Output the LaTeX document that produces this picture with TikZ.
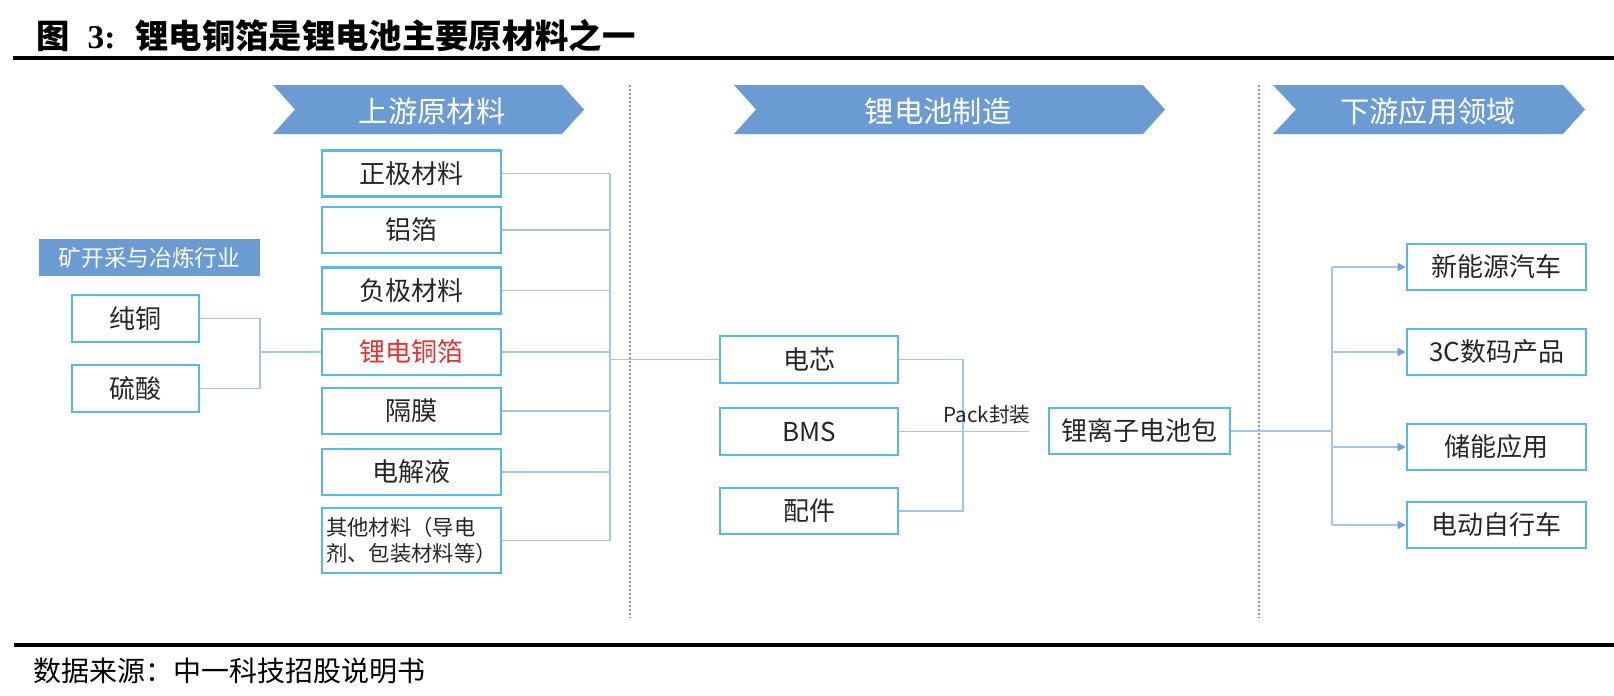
\documentclass[tikz,border=0pt]{standalone}
\usepackage{fontspec}
\usepackage{tikz}
\usetikzlibrary{arrows.meta}
\newfontfamily\cjk{Noto Sans CJK SC}
\newfontfamily\latinserif{Liberation Serif}
\definecolor{bannerblue}{RGB}{106,155,210}
\definecolor{boxedge}{RGB}{88,184,234}
\definecolor{linkblue}{RGB}{165,198,232}
\definecolor{tipblue}{RGB}{112,160,214}
\definecolor{sepgray}{RGB}{150,150,150}
\definecolor{hotred}{RGB}{232,48,48}
\definecolor{inkgray}{RGB}{38,38,38}

\begin{document}
\begin{tikzpicture}[x=0.75pt,y=0.75pt,yscale=-1,xscale=1,
  matbox/.style={draw=boxedge,line width=2pt,fill=white,inner sep=0pt,
    minimum width=134.25pt,minimum height=34.5pt,text=inkgray,
    font=\cjk\fontsize{19.5}{22}\selectfont},
  banner/.style={fill=bannerblue,draw=none},
  bannertext/.style={inner sep=0pt,text=white,font=\cjk\fontsize{22}{24}\selectfont},
  link/.style={draw=linkblue,line width=1.2pt},
  arrowlink/.style={link,-{Triangle[length=6pt,width=6pt,color=tipblue]}},
  sep/.style={draw=sepgray,line width=1.2pt,dash pattern=on 1.5pt off 1.5pt}]
\useasboundingbox (0,0) rectangle (1614,696);

% Title
\draw (36,36) node [anchor=west,inner sep=0pt] (title) {\fontsize{25}{28}\selectfont{\cjk\bfseries 图}\hspace{13.5pt}{\latinserif\bfseries 3:}\hspace{15pt}{\cjk\bfseries 锂电铜箔是锂电池主要原材料之一}};
%Straight Lines
\draw [line width=3pt] (13,58) -- (1614,58) ;
%Straight Lines
\draw [line width=3pt] (14,645) -- (1614,645) ;
% Text Node
\draw (33,671) node [anchor=west,inner sep=0pt] (source) {\cjk\fontsize{21}{24}\selectfont 数据来源：中一科技招股说明书};

%Banners
\fill [banner] (273,85) -- (562,85) -- (584,109.5) -- (562,134) -- (273,134) -- (295,109.5) -- cycle ;
\fill [banner] (734,85) -- (1143,85) -- (1165,109.5) -- (1143,134) -- (734,134) -- (756,109.5) -- cycle ;
\fill [banner] (1273,85) -- (1563,85) -- (1585,109.5) -- (1563,134) -- (1273,134) -- (1296,109.5) -- cycle ;
\draw (432,111) node [bannertext] (upstream) {上游原材料};
\draw (938,111) node [bannertext] (making) {锂电池制造};
\draw (1428,111) node [bannertext] (downstream) {下游应用领域};

%Dotted separators
\draw [sep] (630,85) -- (630,618) ;
\draw [sep] (1259,85) -- (1259,618) ;

% Mining
\fill [banner] (39,239) rectangle (260,276) ;
\draw (149.5,257.5) node [inner sep=0pt,text=white,font=\cjk\fontsize{17}{19}\selectfont] (mining) {矿开采与冶炼行业};
\draw (135.5,318.5) node [matbox,minimum width=95.25pt,minimum height=35.25pt] (cu) {纯铜};
\draw (135.5,388.5) node [matbox,minimum width=95.25pt,minimum height=35.25pt] (sa) {硫酸};

% Upstream materials
\draw (411.5,173.5) node [matbox] (zj) {正极材料};
\draw (411.5,230) node [matbox] (lb) {铝箔};
\draw (411.5,290.5) node [matbox] (fj) {负极材料};
\draw (411.5,352) node [matbox,text=hotred] (cf) {锂电铜箔};
\draw (411.5,411) node [matbox] (gm) {隔膜};
\draw (411.5,472) node [matbox] (dj) {电解液};
\draw (411.5,540.5) node [matbox,minimum height=48.75pt,align=left,font=\cjk\fontsize{16}{20}\selectfont] (qt) {其他材料（导电\\剂、包装材料等）};

% Battery making
\draw (809,359.5) node [matbox,minimum width=133.5pt,minimum height=35.25pt] (dx) {电芯};
\draw (809,431.5) node [matbox,minimum width=133.5pt,minimum height=35.25pt] (bms) {BMS};
\draw (809,511) node [matbox,minimum width=133.5pt] (pj) {配件};
\draw (1139.5,431) node [matbox,minimum width=135.75pt] (pack) {锂离子电池包};

% Applications
\draw (1496.5,267) node [matbox] (xn) {新能源汽车};
\draw (1496.5,352) node [matbox] (sc) {3C数码产品};
\draw (1496.5,447) node [matbox] (cn) {储能应用};
\draw (1496.5,525) node [matbox] (dd) {电动自行车};

% Bus coordinates
\coordinate (lbus) at (260,353.5);
\coordinate (mbus) at (610,352);
\coordinate (pbus) at (963,431.5);
\coordinate (packend) at (1029,431.5);
\coordinate (rbus) at (1332,431);

%Connectors
\draw [link] (cu.east) -- (cu.east -| lbus) -- (sa.east -| lbus) -- (sa.east) ;
\draw [link] (lbus |- cf.west) -- (cf.west) ;
\foreach \n in {zj,lb,fj,cf,gm,dj,qt}
  \draw [link] (\n.east) -- (\n.east -| mbus) ;
\draw [link] (zj.east -| mbus) -- (qt.east -| mbus) ;
\draw [link] (mbus |- dx.west) -- (dx.west) ;
\draw [link] (dx.east) -- (dx.east -| pbus) -- (pj.east -| pbus) -- (pj.east) ;
\draw [link] (bms.east) -- (packend) ;
\draw (987,415) node [inner sep=0pt,text=inkgray,font=\cjk\fontsize{15.5}{17}\selectfont] (packlabel) {Pack封装};
\draw [link] (pack.east) -- (rbus) ;
\draw [link] (xn.west -| rbus) -- (dd.west -| rbus) ;
\foreach \n in {xn,sc,cn,dd}
  \draw [arrowlink] (\n.west -| rbus) -- (\n.west) ;

\end{tikzpicture}
\end{document}
